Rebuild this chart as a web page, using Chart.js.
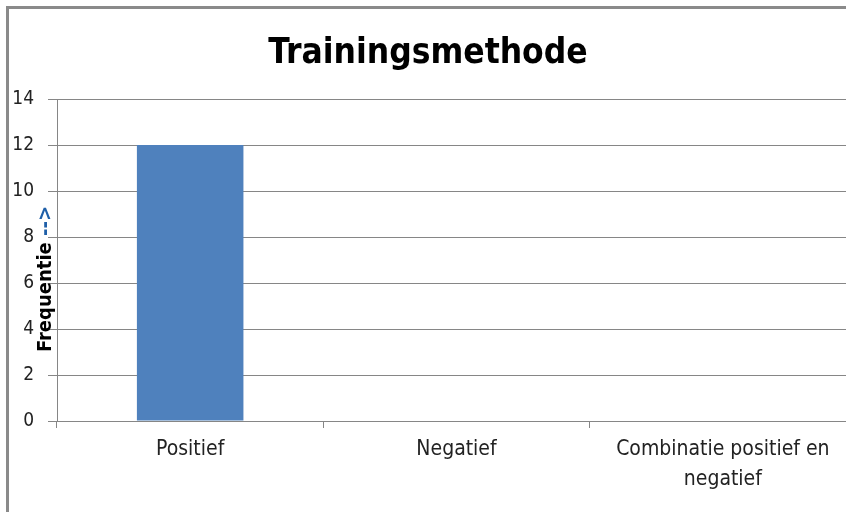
<!DOCTYPE html>
<html>
<head>
<meta charset="utf-8">
<script src="https://cdn.jsdelivr.net/npm/chart.js@4"></script>
<style>
  html, body { margin: 0; padding: 0; background: #fff; overflow: hidden; width: 846px; height: 512px; }
  #frame { position: absolute; left: 6px; top: 6px; width: 900px; height: 600px;
           border-left: 3px solid #8a8a8a; border-top: 3px solid #8a8a8a; }
  #wrap { position: absolute; left: 0; top: 0; width: 870px; height: 512px; }
</style>
</head>
<body>
<div id="frame"></div>
<div id="wrap"><canvas id="myChart" width="870" height="512"></canvas></div>
<script>
const categories = ["Positief", "Negatief", ["Combinatie positief en", "negatief"]];
const frequencies = [12, 0, 0];
const yTicks = [0, 2, 4, 6, 8, 10, 12, 14];

const chartTitle = "Trainingsmethode";
const yTitleText = "Frequentie";
const yTitleArrow = " -->";

const labelFont = "'Liberation Sans Narrow', 'DejaVu Sans Condensed', 'Open Sans', sans-serif";

// y axis title: bold word in black plus a blue arrow, drawn rotated
const yTitlePlugin = {
  id: "yTitle",
  afterDraw(chart) {
    const ctx = chart.ctx;
    ctx.save();
    ctx.translate(46, 279);
    ctx.rotate(-Math.PI / 2);
    ctx.font = "bold 20px " + labelFont;
    ctx.textBaseline = "middle";
    const w1 = ctx.measureText(yTitleText).width;
    const w2 = ctx.measureText(yTitleArrow).width;
    let x = -(w1 + w2) / 2;
    ctx.fillStyle = "#000";
    ctx.fillText(yTitleText, x, 0);
    ctx.fillStyle = "#1F5FA8";
    ctx.fillText(yTitleArrow, x + w1, 0);
    ctx.restore();
  }
};

function initChart() {
  const ctx = document.getElementById("myChart");
  return new Chart(ctx, {
    type: "bar",
    data: {
      labels: categories,
      datasets: [
        {
          label: "Frequentie",
          data: frequencies,
          backgroundColor: "#4F81BD",
          borderWidth: 0,
          categoryPercentage: 1,
          barPercentage: 0.4,
        },
      ],
    },
    options: {
      responsive: false,
      animation: false,
      layout: { padding: { left: 0, right: 14, top: 0, bottom: 0 } },
      plugins: {
        legend: { display: false },
        tooltip: { enabled: false },
        title: {
          display: true,
          text: chartTitle,
          color: "#000",
          font: { family: labelFont, size: 35, weight: "bold", lineHeight: 1.2 },
          padding: { top: 33, bottom: 24 },
        },
      },
      scales: {
        x: {
          grid: {
            offset: true,
            drawOnChartArea: false,
            color: "#868686",
            tickLength: 7,
          },
          border: { color: "#868686" },
          ticks: {
            color: "#222",
            font: { family: labelFont, size: 21, lineHeight: 1.43 },
            maxRotation: 0,
            autoSkip: false,
            padding: 7,
          },
          afterFit(scale) {
            scale.height = 91;
          },
        },
        y: {
          min: 0,
          max: 14,
          afterBuildTicks(scale) {
            scale.ticks = yTicks.map((v) => ({ value: v }));
          },
          grid: { color: "#868686", tickLength: 9 },
          border: { color: "#868686" },
          ticks: {
            color: "#222",
            font: { family: labelFont, size: 19 },
            padding: 14,
          },
          afterFit(scale) {
            scale.width = 57;
          },
        },
      },
    },
    plugins: [yTitlePlugin],
  });
}

document.addEventListener("DOMContentLoaded", () => initChart());
</script>
</body>
</html>
